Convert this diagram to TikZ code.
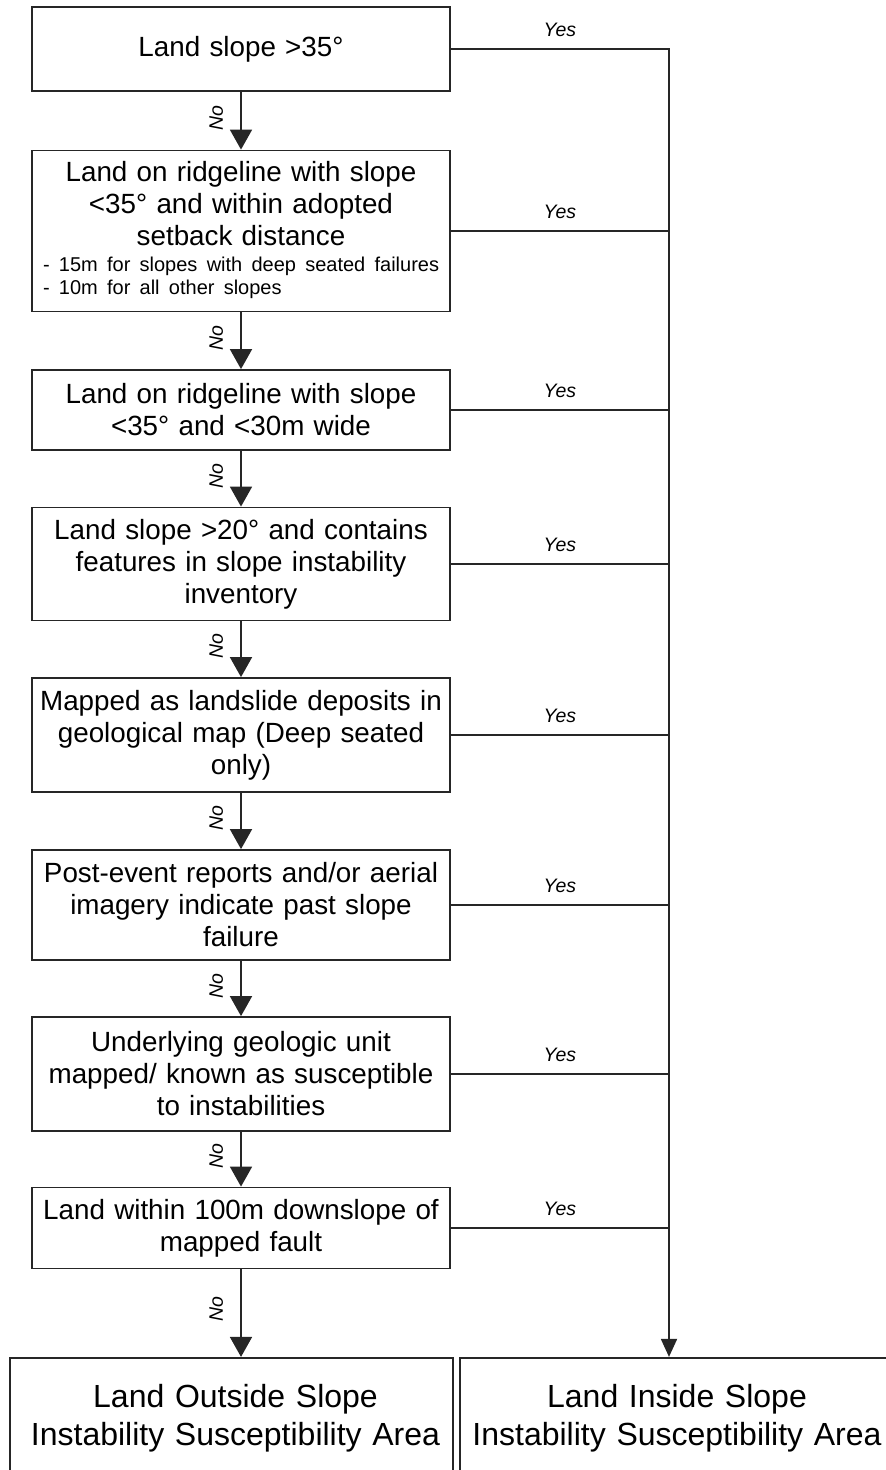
\documentclass[tikz,border=0pt]{standalone}
\usepackage{fontspec}
\setmainfont{Liberation Sans}
\usetikzlibrary{arrows.meta}

\tikzset{
  test/.style={draw=black!85, line width=1.8pt, inner sep=1pt, text width=416pt, align=center,
    font=\fontsize{27.8}{32}\selectfont},
  result/.style={draw=black!85, line width=2.2pt, inner sep=0pt, text width=430pt, align=center,
    minimum height=120pt, font=\fontsize{32}{38}\selectfont},
  flow/.style={draw=black!85, line width=1.8pt, -{Triangle[width=22pt,length=20pt]}},
  trunkflow/.style={draw=black!85, line width=1.8pt, line join=miter, -{Triangle[width=16pt,length=18pt]}},
  yesline/.style={draw=black!85, line width=1.8pt},
  yeslabel/.style={font=\fontsize{19.5}{22}\selectfont\itshape, anchor=south,
    inner sep=0pt, outer sep=12pt},
  nolabel/.style={font=\fontsize{19.5}{22}\selectfont\itshape, rotate=90, anchor=south,
    inner sep=0pt, outer sep=18pt, pos=0.45}
}

\begin{document}
\begin{tikzpicture}[x=1pt, y=-1pt]
  \useasboundingbox (0,0) rectangle (886,1470);
  \clip (0,0) rectangle (886,1470);

  \node[test, minimum height=84pt]  (b1) at (241,49) {Land slope >35°};
  \node[test, minimum height=161pt] (b2) at (241,231) {Land on ridgeline with slope\\
    <35° and within adopted\\ setback distance\par\vspace{3pt}
    \fontsize{20}{23}\selectfont
    \makebox[416pt][l]{\hspace*{10pt}\begin{tabular}[t]{@{}l@{}}
      - 15m for slopes with deep seated failures\\
      - 10m for all other slopes
    \end{tabular}}\par};
  \node[test, minimum height=80pt]  (b3) at (241,410) {Land on ridgeline with slope\\ <35° and <30m wide};
  \node[test, minimum height=113pt] (b4) at (241,564) {Land slope >20° and contains\\
    features in slope instability\\ inventory};
  \node[test, minimum height=114pt] (b5) at (241,735) {Mapped as landslide deposits in\\
    geological map (Deep seated\\ only)};
  \node[test, minimum height=110pt] (b6) at (241,905) {Post-event reports and/or aerial\\
    imagery indicate past slope\\ failure};
  \node[test, minimum height=114pt] (b7) at (241,1074) {Underlying geologic unit\\
    mapped/ known as susceptible\\ to instabilities};
  \node[test, minimum height=81pt]  (b8) at (241,1228) {Land within 100m downslope of\\ mapped fault};

  \node[result, minimum width=443pt] (out1) at (231.5,1418) {\hspace*{8pt}Land Outside Slope\\ \hspace*{8pt}Instability Susceptibility Area};
  \node[result, minimum width=434pt] (out2) at (677,1418) {Land Inside Slope\\ Instability Susceptibility Area};

  \coordinate (trunk) at (669,49);

  \draw[flow] (b1.south) -- node[nolabel] {No} (b2.north);
  \draw[flow] (b2.south) -- node[nolabel] {No} (b3.north);
  \draw[flow] (b3.south) -- node[nolabel] {No} (b4.north);
  \draw[flow] (b4.south) -- node[nolabel] {No} (b5.north);
  \draw[flow] (b5.south) -- node[nolabel] {No} (b6.north);
  \draw[flow] (b6.south) -- node[nolabel] {No} (b7.north);
  \draw[flow] (b7.south) -- node[nolabel] {No} (b8.north);
  \draw[flow] (b8.south) -- node[nolabel] {No} (b8.south |- out1.north);

  \draw[trunkflow] (b1.east) -- node[yeslabel] {Yes} (b1.east -| trunk) -- (trunk |- out2.north);
  \foreach \b in {b2,b3,b4,b5,b6,b7,b8}
    \draw[yesline] (\b.east) -- node[yeslabel] {Yes} (\b.east -| trunk);
\end{tikzpicture}
\end{document}
